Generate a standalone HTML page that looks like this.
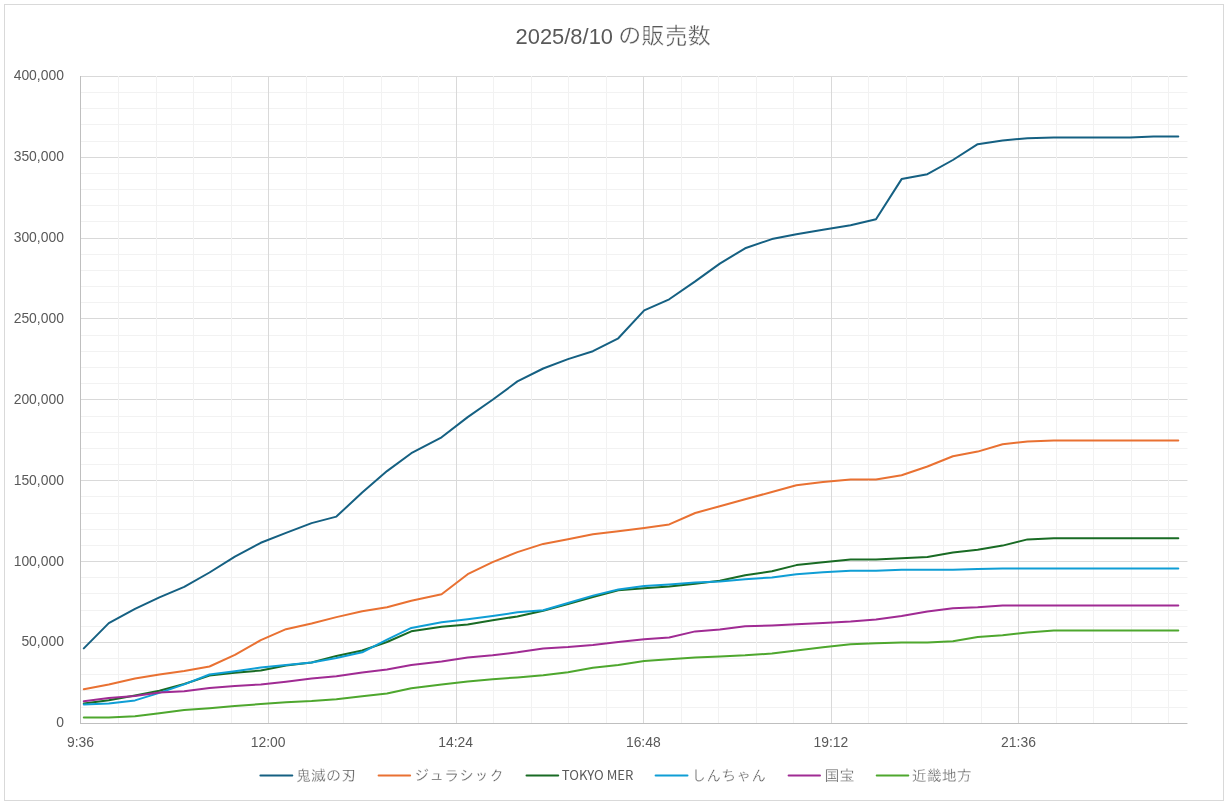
<!DOCTYPE html>
<html lang="ja"><head><meta charset="utf-8"><title>2025/8/10 の販売数</title>
<style>html,body{margin:0;padding:0;background:#fff}body{width:1228px;height:806px;overflow:hidden}svg{display:block}
text{fill:#595959;font-family:"Liberation Sans","IPAGothic","Noto Sans CJK JP",sans-serif}
.ax{font-size:13.9px}.cjk{font-family:"Liberation Sans","IPAGothic","Noto Sans CJK JP",sans-serif;font-size:15px;stroke:#fff;stroke-width:.3px;paint-order:fill stroke}.lat{font-family:"Noto Sans CJK JP","Liberation Sans",sans-serif;font-size:13.2px}
</style></head><body>
<svg width="1228" height="806" viewBox="0 0 1228 806">
<rect x="0" y="0" width="1228" height="806" fill="#fff"/>
<rect x="4.5" y="4.5" width="1219" height="796" fill="#fff" stroke="#D9D9D9" stroke-width="1"/>
<g stroke-width="1" fill="none">
<g stroke="#F2F2F2">
<line x1="80.0" x2="1187.45" y1="92.5" y2="92.5"/>
<line x1="80.0" x2="1187.45" y1="108.5" y2="108.5"/>
<line x1="80.0" x2="1187.45" y1="124.5" y2="124.5"/>
<line x1="80.0" x2="1187.45" y1="141.5" y2="141.5"/>
<line x1="80.0" x2="1187.45" y1="173.5" y2="173.5"/>
<line x1="80.0" x2="1187.45" y1="189.5" y2="189.5"/>
<line x1="80.0" x2="1187.45" y1="205.5" y2="205.5"/>
<line x1="80.0" x2="1187.45" y1="221.5" y2="221.5"/>
<line x1="80.0" x2="1187.45" y1="254.5" y2="254.5"/>
<line x1="80.0" x2="1187.45" y1="270.5" y2="270.5"/>
<line x1="80.0" x2="1187.45" y1="286.5" y2="286.5"/>
<line x1="80.0" x2="1187.45" y1="302.5" y2="302.5"/>
<line x1="80.0" x2="1187.45" y1="335.5" y2="335.5"/>
<line x1="80.0" x2="1187.45" y1="351.5" y2="351.5"/>
<line x1="80.0" x2="1187.45" y1="367.5" y2="367.5"/>
<line x1="80.0" x2="1187.45" y1="383.5" y2="383.5"/>
<line x1="80.0" x2="1187.45" y1="416.5" y2="416.5"/>
<line x1="80.0" x2="1187.45" y1="432.5" y2="432.5"/>
<line x1="80.0" x2="1187.45" y1="448.5" y2="448.5"/>
<line x1="80.0" x2="1187.45" y1="464.5" y2="464.5"/>
<line x1="80.0" x2="1187.45" y1="496.5" y2="496.5"/>
<line x1="80.0" x2="1187.45" y1="513.5" y2="513.5"/>
<line x1="80.0" x2="1187.45" y1="529.5" y2="529.5"/>
<line x1="80.0" x2="1187.45" y1="545.5" y2="545.5"/>
<line x1="80.0" x2="1187.45" y1="577.5" y2="577.5"/>
<line x1="80.0" x2="1187.45" y1="593.5" y2="593.5"/>
<line x1="80.0" x2="1187.45" y1="610.5" y2="610.5"/>
<line x1="80.0" x2="1187.45" y1="626.5" y2="626.5"/>
<line x1="80.0" x2="1187.45" y1="658.5" y2="658.5"/>
<line x1="80.0" x2="1187.45" y1="674.5" y2="674.5"/>
<line x1="80.0" x2="1187.45" y1="690.5" y2="690.5"/>
<line x1="80.0" x2="1187.45" y1="707.5" y2="707.5"/>
</g><g stroke="#D9D9D9">
<line x1="80.0" x2="1187.45" y1="76.5" y2="76.5"/>
<line x1="80.0" x2="1187.45" y1="157.5" y2="157.5"/>
<line x1="80.0" x2="1187.45" y1="238.5" y2="238.5"/>
<line x1="80.0" x2="1187.45" y1="318.5" y2="318.5"/>
<line x1="80.0" x2="1187.45" y1="399.5" y2="399.5"/>
<line x1="80.0" x2="1187.45" y1="480.5" y2="480.5"/>
<line x1="80.0" x2="1187.45" y1="561.5" y2="561.5"/>
<line x1="80.0" x2="1187.45" y1="642.5" y2="642.5"/>
</g><g stroke="#F2F2F2">
<line x1="118.5" x2="118.5" y1="76.0" y2="724.0"/>
<line x1="156.5" x2="156.5" y1="76.0" y2="724.0"/>
<line x1="193.5" x2="193.5" y1="76.0" y2="724.0"/>
<line x1="231.5" x2="231.5" y1="76.0" y2="724.0"/>
<line x1="306.5" x2="306.5" y1="76.0" y2="724.0"/>
<line x1="343.5" x2="343.5" y1="76.0" y2="724.0"/>
<line x1="381.5" x2="381.5" y1="76.0" y2="724.0"/>
<line x1="418.5" x2="418.5" y1="76.0" y2="724.0"/>
<line x1="493.5" x2="493.5" y1="76.0" y2="724.0"/>
<line x1="531.5" x2="531.5" y1="76.0" y2="724.0"/>
<line x1="568.5" x2="568.5" y1="76.0" y2="724.0"/>
<line x1="606.5" x2="606.5" y1="76.0" y2="724.0"/>
<line x1="681.5" x2="681.5" y1="76.0" y2="724.0"/>
<line x1="718.5" x2="718.5" y1="76.0" y2="724.0"/>
<line x1="756.5" x2="756.5" y1="76.0" y2="724.0"/>
<line x1="793.5" x2="793.5" y1="76.0" y2="724.0"/>
<line x1="868.5" x2="868.5" y1="76.0" y2="724.0"/>
<line x1="906.5" x2="906.5" y1="76.0" y2="724.0"/>
<line x1="943.5" x2="943.5" y1="76.0" y2="724.0"/>
<line x1="981.5" x2="981.5" y1="76.0" y2="724.0"/>
<line x1="1056.5" x2="1056.5" y1="76.0" y2="724.0"/>
<line x1="1093.5" x2="1093.5" y1="76.0" y2="724.0"/>
<line x1="1131.5" x2="1131.5" y1="76.0" y2="724.0"/>
<line x1="1168.5" x2="1168.5" y1="76.0" y2="724.0"/>
</g><g stroke="#D9D9D9">
<line x1="268.5" x2="268.5" y1="76.0" y2="724.0"/>
<line x1="456.5" x2="456.5" y1="76.0" y2="724.0"/>
<line x1="643.5" x2="643.5" y1="76.0" y2="724.0"/>
<line x1="831.5" x2="831.5" y1="76.0" y2="724.0"/>
<line x1="1018.5" x2="1018.5" y1="76.0" y2="724.0"/>
</g><g stroke="#BFBFBF">
<line x1="80.5" x2="80.5" y1="76.0" y2="724.0"/>
<line x1="80.0" x2="1187.45" y1="723.5" y2="723.5"/>
</g></g>
<g fill="none" stroke-width="2.0" stroke-linecap="round" stroke-linejoin="round">
<polyline stroke="#156082" points="83.8,648.4 108.8,623.1 135.0,608.8 159.4,597.3 184.2,586.8 209.5,572.5 234.9,556.6 260.8,542.8 286.0,532.9 311.6,523.1 336.4,516.6 362.2,492.4 387.0,471.1 411.3,453.2 441.6,437.3 467.7,417.1 492.6,399.8 517.4,381.4 543.2,368.5 568.0,359.1 592.9,351.2 618.3,338.3 644.2,310.4 669.2,299.3 695.2,281.4 719.8,263.6 745.1,248.3 771.9,239.1 796.4,234.3 823.0,229.8 850.6,225.2 876.0,219.2 901.6,179.1 927.4,174.2 952.9,160.0 977.7,144.2 1002.6,140.4 1027.5,138.2 1053.8,137.4 1079.0,137.4 1104.0,137.4 1130.0,137.4 1153.5,136.5 1178.3,136.5"/>
<polyline stroke="#E97132" points="83.8,689.3 108.8,684.4 135.0,678.5 159.4,674.5 184.2,671.1 209.5,666.5 234.9,654.9 260.8,640.1 286.0,629.2 311.6,623.5 336.4,617.1 362.2,611.2 387.0,607.3 411.3,600.7 441.6,594.3 467.7,574.2 492.6,562.1 517.4,552.1 543.2,543.9 568.0,539.2 592.9,534.2 618.3,531.3 644.2,527.9 669.2,524.4 695.2,513.0 719.8,506.2 745.1,499.3 771.9,492.0 796.4,485.2 823.0,482.1 850.6,479.6 876.0,479.6 901.6,475.2 927.4,466.5 952.9,456.3 977.7,451.6 1002.6,444.2 1027.5,441.4 1053.8,440.5 1079.0,440.5 1104.0,440.5 1130.0,440.5 1153.5,440.5 1178.3,440.5"/>
<polyline stroke="#196B24" points="83.8,703.4 108.8,700.2 135.0,695.4 159.4,690.7 184.2,684.0 209.5,675.6 234.9,672.8 260.8,670.5 286.0,665.4 311.6,662.5 336.4,655.9 362.2,650.5 387.0,642.0 411.3,631.3 441.6,626.7 467.7,624.4 492.6,620.3 517.4,616.4 543.2,610.7 568.0,604.1 592.9,597.0 618.3,590.2 644.2,588.3 669.2,586.5 695.2,583.8 719.8,580.8 745.1,575.3 771.9,571.2 796.4,565.1 823.0,562.3 850.6,559.6 876.0,559.6 901.6,558.3 927.4,557.1 952.9,552.4 977.7,549.7 1002.6,545.6 1027.5,539.4 1053.8,538.2 1079.0,538.2 1104.0,538.2 1130.0,538.2 1153.5,538.2 1178.3,538.2"/>
<polyline stroke="#0F9ED5" points="83.8,704.5 108.8,703.4 135.0,700.4 159.4,692.9 184.2,684.4 209.5,674.5 234.9,671.3 260.8,667.5 286.0,665.0 311.6,662.6 336.4,658.0 362.2,652.3 387.0,639.7 411.3,627.9 441.6,622.2 467.7,619.2 492.6,616.0 517.4,612.3 543.2,610.3 568.0,603.0 592.9,595.6 618.3,589.5 644.2,586.1 669.2,584.5 695.2,582.6 719.8,581.5 745.1,579.2 771.9,577.4 796.4,574.2 823.0,572.2 850.6,570.7 876.0,570.7 901.6,569.8 927.4,569.8 952.9,569.8 977.7,568.9 1002.6,568.6 1027.5,568.6 1053.8,568.6 1079.0,568.6 1104.0,568.6 1130.0,568.6 1153.5,568.6 1178.3,568.6"/>
<polyline stroke="#A02B93" points="83.8,701.3 108.8,698.1 135.0,696.0 159.4,692.4 184.2,691.2 209.5,688.0 234.9,686.1 260.8,684.4 286.0,681.7 311.6,678.4 336.4,676.2 362.2,672.4 387.0,669.4 411.3,665.0 441.6,661.6 467.7,657.5 492.6,655.2 517.4,652.3 543.2,648.4 568.0,647.0 592.9,645.0 618.3,642.1 644.2,639.3 669.2,637.5 695.2,631.4 719.8,629.5 745.1,626.3 771.9,625.4 796.4,624.3 823.0,623.0 850.6,621.6 876.0,619.4 901.6,616.0 927.4,611.4 952.9,608.3 977.7,607.3 1002.6,605.5 1027.5,605.5 1053.8,605.5 1079.0,605.5 1104.0,605.5 1130.0,605.5 1153.5,605.5 1178.3,605.5"/>
<polyline stroke="#4EA72E" points="83.8,717.5 108.8,717.5 135.0,716.3 159.4,713.3 184.2,710.1 209.5,708.2 234.9,706.1 260.8,704.0 286.0,702.3 311.6,701.1 336.4,699.3 362.2,696.3 387.0,693.4 411.3,688.3 441.6,684.5 467.7,681.5 492.6,679.2 517.4,677.4 543.2,675.3 568.0,672.2 592.9,667.8 618.3,665.1 644.2,661.0 669.2,659.2 695.2,657.6 719.8,656.4 745.1,655.3 771.9,653.5 796.4,650.5 823.0,647.3 850.6,644.3 876.0,643.3 901.6,642.4 927.4,642.4 952.9,641.2 977.7,637.1 1002.6,635.3 1027.5,632.5 1053.8,630.6 1079.0,630.6 1104.0,630.6 1130.0,630.6 1153.5,630.6 1178.3,630.6"/>
</g>
<g class="ax" text-anchor="end">
<text x="63.9" y="727">0</text>
<text x="63.9" y="646">50,000</text>
<text x="63.9" y="566">100,000</text>
<text x="63.9" y="485">150,000</text>
<text x="63.9" y="404">200,000</text>
<text x="63.9" y="323">250,000</text>
<text x="63.9" y="242">300,000</text>
<text x="63.9" y="161">350,000</text>
<text x="63.9" y="80">400,000</text>
</g>
<g class="ax" text-anchor="middle">
<text x="80.50" y="747">9:36</text>
<text x="268.10" y="747">12:00</text>
<text x="455.70" y="747">14:24</text>
<text x="643.30" y="747">16:48</text>
<text x="830.90" y="747">19:12</text>
<text x="1018.50" y="747">21:36</text>
</g>
<text x="515.6" y="44.2" style="font-size:21.9px">2025/8/10 <tspan x="617.9" style="font-family:'Liberation Sans','IPAGothic','Noto Sans CJK JP',sans-serif;font-size:23.25px;stroke:#fff;stroke-width:.33px;paint-order:fill stroke">の販売数</tspan></text>
<g stroke-width="2.0" stroke-linecap="round">
<line x1="260.4" x2="292.3" y1="775.5" y2="775.5" stroke="#156082"/>
<line x1="378.6" x2="410.1" y1="775.5" y2="775.5" stroke="#E97132"/>
<line x1="526.5" x2="558.2" y1="775.5" y2="775.5" stroke="#196B24"/>
<line x1="655.6" x2="687.5" y1="775.5" y2="775.5" stroke="#0F9ED5"/>
<line x1="788.6" x2="820.0" y1="775.5" y2="775.5" stroke="#A02B93"/>
<line x1="876.7" x2="908.3" y1="775.5" y2="775.5" stroke="#4EA72E"/>
</g>
<text class="cjk" x="295.9" y="781.3">鬼滅の刃</text>
<text class="cjk" x="414.3" y="781.3">ジュラシック</text>
<text class="lat" x="561.8" y="779.6" textLength="71.6" lengthAdjust="spacingAndGlyphs">TOKYO MER</text>
<text class="cjk" x="691.2" y="781.3">しんちゃん</text>
<text class="cjk" x="824.5" y="781.3">国宝</text>
<text class="cjk" x="911.8" y="781.3">近畿地方</text>
</svg></body></html>
